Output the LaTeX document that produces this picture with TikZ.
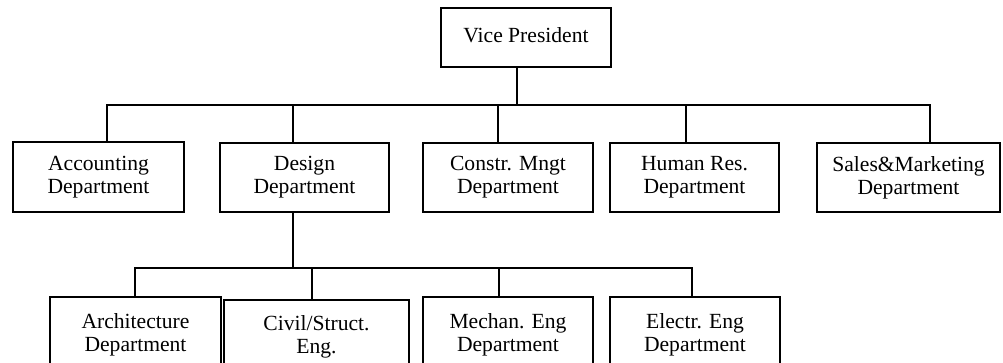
\documentclass[tikz,border=0pt]{standalone}
\usepackage{fontspec}
\setmainfont{Liberation Serif}
\begin{document}
\begin{tikzpicture}[x=0.5pt,y=-0.5pt,
  box/.style={draw, line width=1pt, inner sep=0pt, align=center,
    font=\fontsize{10.8}{11.6}\selectfont},
  link/.style={line width=1pt}]
\useasboundingbox (0,0) rectangle (1003,363);
\clip (0,0) rectangle (1003,363);
\fill[white] (0,0) rectangle (1003,363);

% top level
\node[box, minimum width=85pt, minimum height=29.5pt] (vp) at (526,37.5) {\raisebox{2pt}{Vice President}};

% departments
\node[box, minimum width=85.5pt, minimum height=35pt] (acc) at (98.5,177) {Accounting\\Department};
\node[box, minimum width=84.5pt, minimum height=34.5pt] (des) at (304.5,177.5) {Design\\Department};
\node[box, minimum width=85pt, minimum height=34.5pt] (con) at (508,177.5) {Constr. Mngt\\Department};
\node[box, minimum width=84.5pt, minimum height=34.5pt] (hum) at (694.5,177.5) {Human Res.\\Department};
\node[box, minimum width=91.5pt, minimum height=34.5pt] (sal) at (908.5,177.5) {Sales\&Marketing\\Department};

% design sub-departments
\node[box, minimum width=85.5pt, minimum height=38pt] (arc) at (135.5,335) {Architecture\\Department};
\node[box, minimum width=92.5pt, minimum height=37pt] (civ) at (316.5,337) {Civil/Struct.\\Eng.};
\node[box, minimum width=85pt, minimum height=38pt] (mec) at (508,335) {Mechan. Eng\\Department};
\node[box, minimum width=85pt, minimum height=38pt] (ele) at (695,335) {Electr. Eng\\Department};

% upper bus
\coordinate (vpd) at (517,105);
\coordinate (busL) at (107,105);
\coordinate (busR) at (930,105);
\coordinate (dDes) at (293,105);
\coordinate (dCon) at (498,105);
\coordinate (dHum) at (686,105);

\draw[link] (vpd |- vp.south) -- (vpd);
\draw[link] (busL |- acc.north) -- (busL) -- (busR) -- (busR |- sal.north);
\draw[link] (dDes) -- (dDes |- des.north);
\draw[link] (dCon) -- (dCon |- con.north);
\draw[link] (dHum) -- (dHum |- hum.north);

% lower bus
\coordinate (ddd) at (293,268);
\coordinate (lbL) at (135,268);
\coordinate (lbR) at (692,268);
\coordinate (dCiv) at (312,268);
\coordinate (dMec) at (499,268);

\draw[link] (ddd |- des.south) -- (ddd);
\draw[link] (lbL |- arc.north) -- (lbL) -- (lbR) -- (lbR |- ele.north);
\draw[link] (dCiv) -- (dCiv |- civ.north);
\draw[link] (dMec) -- (dMec |- mec.north);
\end{tikzpicture}
\end{document}
